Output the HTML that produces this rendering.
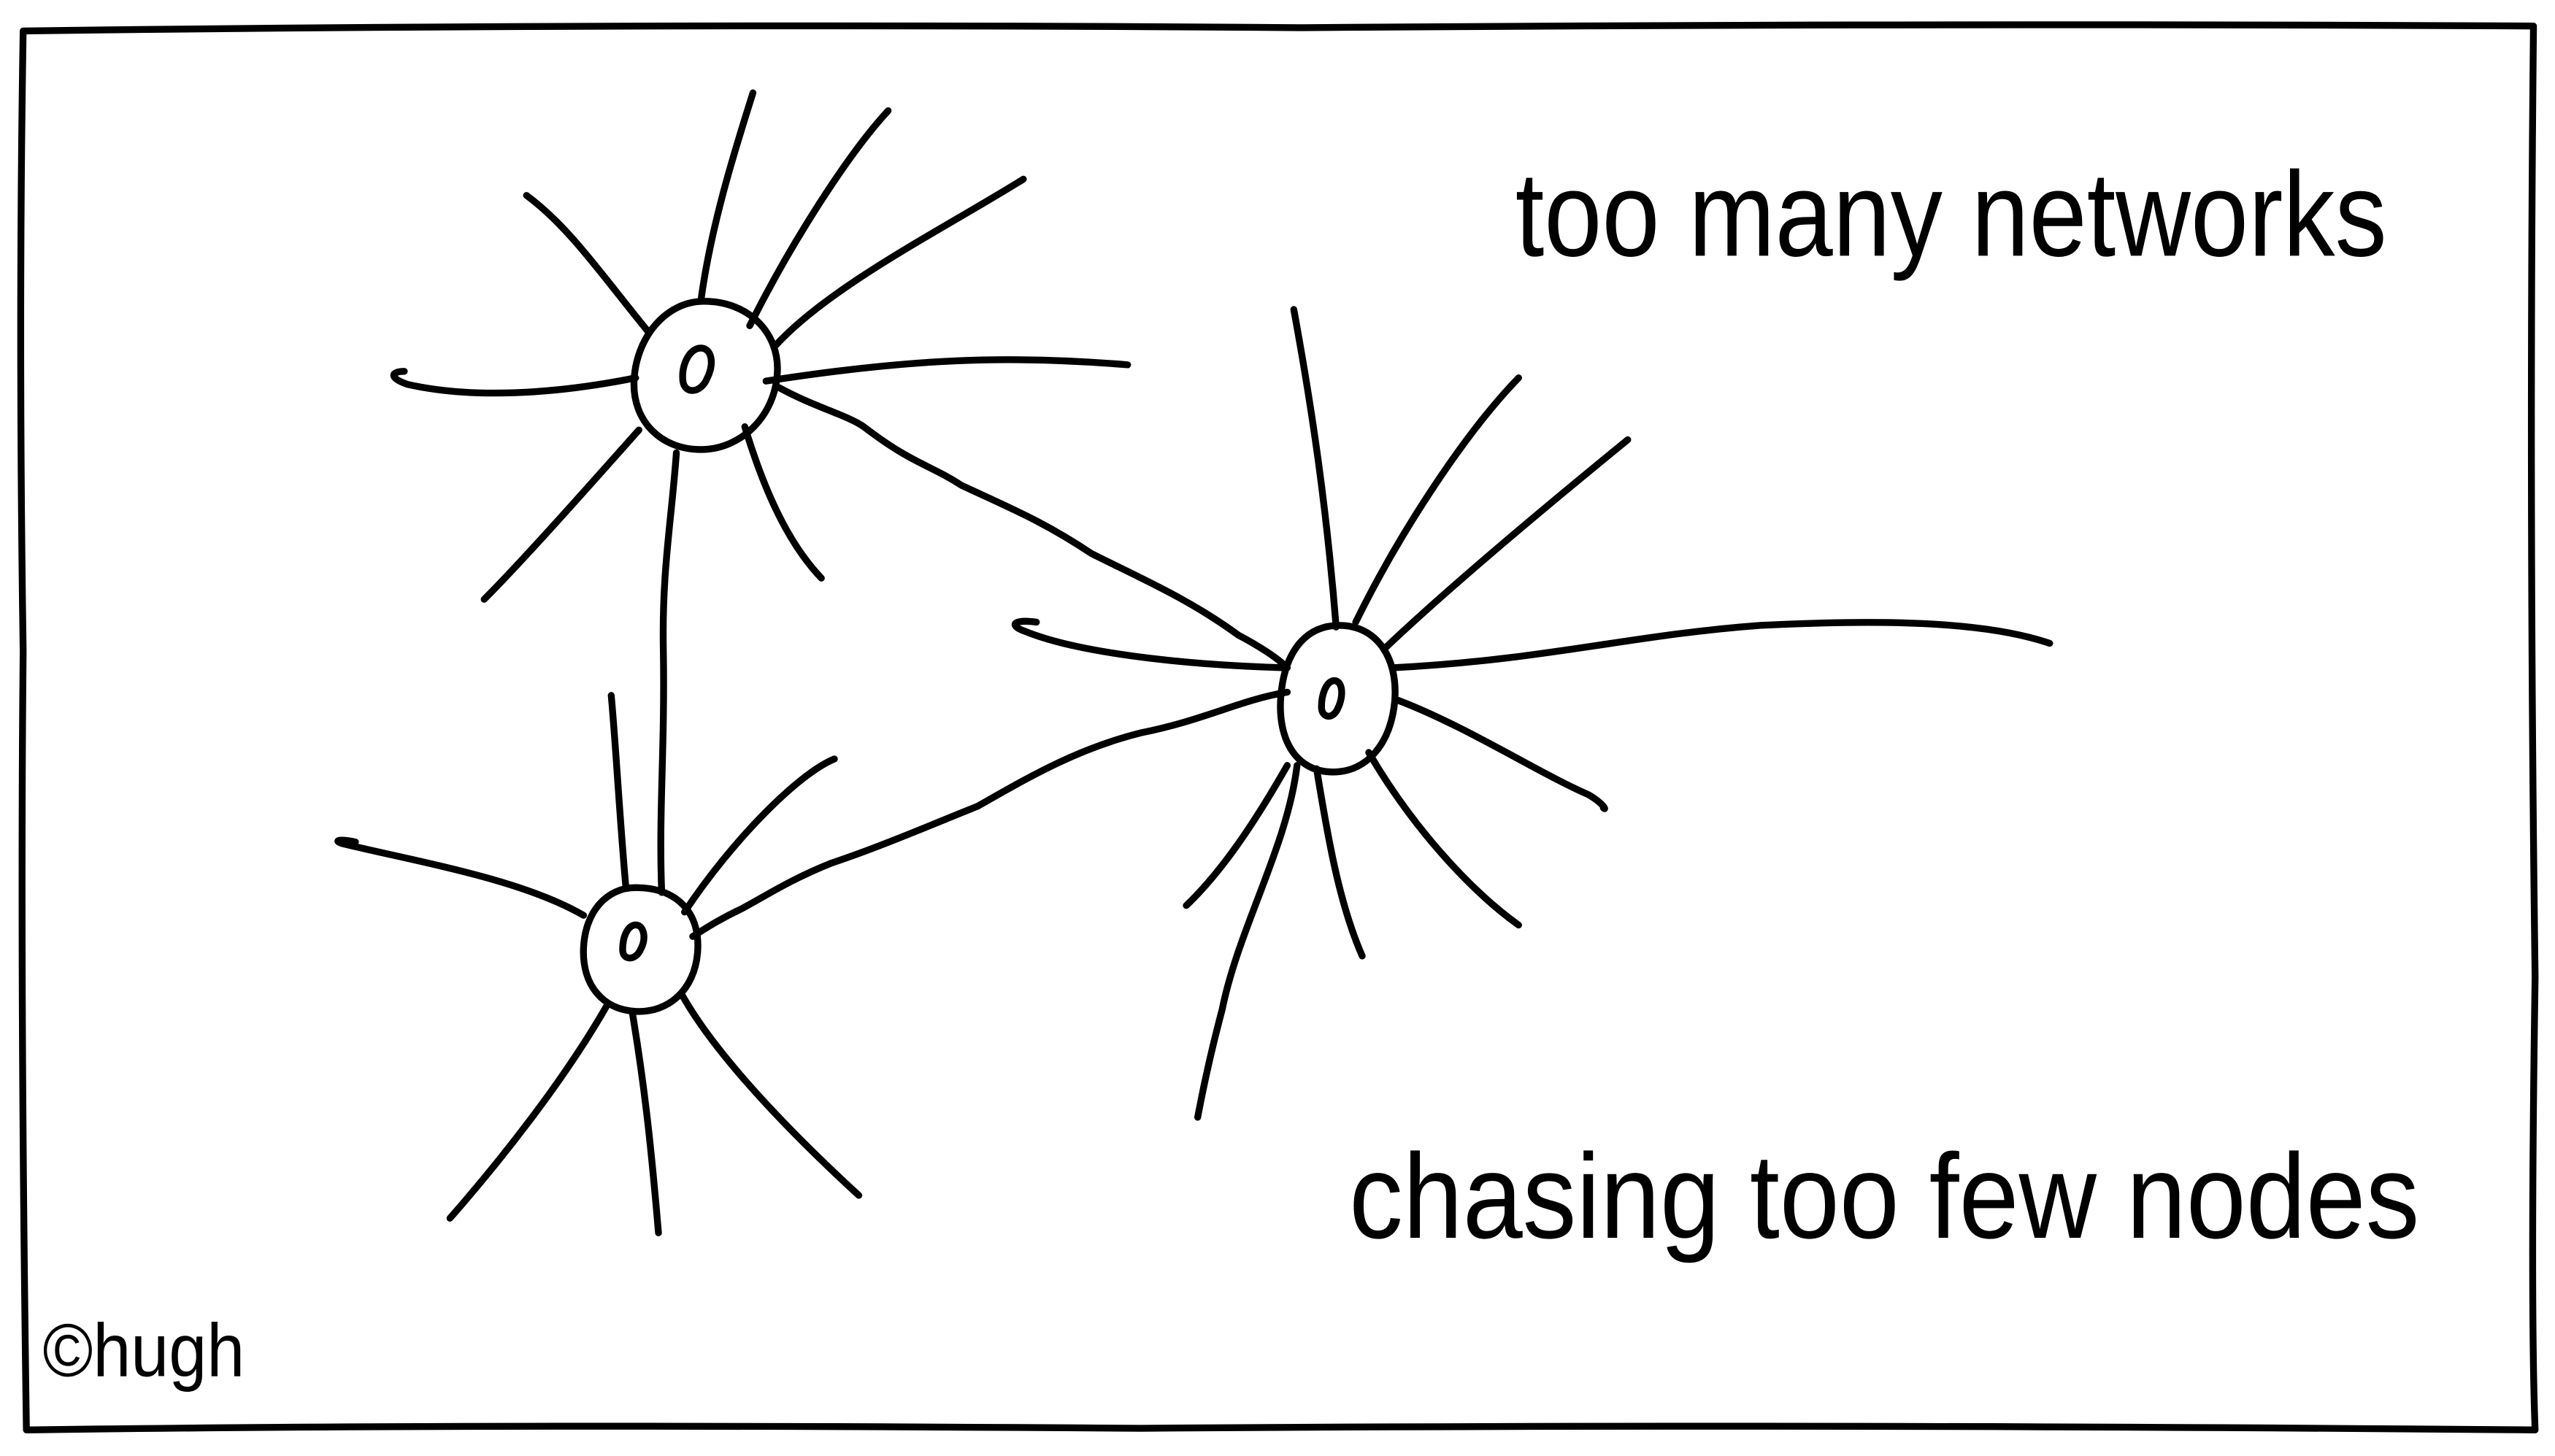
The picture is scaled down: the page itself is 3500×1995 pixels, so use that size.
<!DOCTYPE html>
<html><head><meta charset="utf-8"><style>
html,body{margin:0;padding:0;background:#fff;}
svg{display:block;}
</style></head><body>
<svg width="3500" height="1995" viewBox="0 0 1568 894" xmlns="http://www.w3.org/2000/svg">
<rect width="1568" height="894" fill="#fff"/>
<g fill="none" stroke="#000" stroke-width="4.2" stroke-linecap="round" stroke-linejoin="round">
<path d="M14 19 Q400 14 800 17 Q1200 14 1555 16 Q1552 300 1556 600 Q1553 800 1556 878 Q1100 874 700 877 Q300 874 16 878 Q12 600 14 400 Q11 200 14 19Z"/>
<path d="M432 185 C460 185 478 205 477 228 C476 255 455 276 430 276 C405 276 388 258 389 234 C390 208 408 185 432 185Z"/>
<path d="M428 214 C436 212 439 222 434 232 C430 242 420 242 419 234 C418 225 422 216 428 214Z"/>
<path d="M398 204 C370 170 350 140 323 120"/>
<path d="M430 185 C436 140 450 95 462 57"/>
<path d="M460 200 C485 150 520 95 545 68"/>
<path d="M476 212 C510 175 580 140 628 110"/>
<path d="M470 234 C560 220 620 218 692 224"/>
<path d="M390 232 C340 242 290 245 250 236 C238 232 240 228 248 228"/>
<path d="M392 264 C360 300 320 345 297 368"/>
<path d="M457 262 C470 305 485 335 504 355"/>
<path d="M415 278 C412 320 406 350 407 400 C408 460 404 500 406 548"/>
<path d="M478 238 C500 250 520 255 530 262 C560 285 570 285 590 298 C620 312 640 320 670 340 C700 355 730 368 760 390 C775 398 785 405 790 410"/>
<path d="M822 384 C845 384 858 404 856 430 C854 455 840 474 818 474 C796 474 784 455 786 428 C788 402 800 384 822 384Z"/>
<path d="M818 418 C824 417 825 427 821 435 C818 442 811 441 811 434 C811 426 814 419 818 418Z"/>
<path d="M820 385 C814 310 805 250 794 190"/>
<path d="M832 382 C860 325 900 265 932 232"/>
<path d="M850 398 C890 360 950 310 999 270"/>
<path d="M855 410 C950 405 1000 390 1080 384 C1160 380 1220 382 1258 395"/>
<path d="M788 410 C720 408 660 400 630 388 C618 384 622 380 636 382"/>
<path d="M858 430 C900 446 945 475 975 488 C985 494 986 498 984 496"/>
<path d="M840 462 C865 505 900 545 932 568"/>
<path d="M808 472 C815 515 822 555 836 587"/>
<path d="M796 470 C790 520 760 570 750 620 C742 650 738 670 735 686"/>
<path d="M790 470 C770 505 750 535 728 556"/>
<path d="M790 425 C760 430 740 442 700 450 C660 460 630 478 600 495 C570 507 540 520 510 530 C485 540 470 550 455 558 C440 565 430 572 425 575"/>
<path d="M390 545 C415 545 430 560 428 585 C426 608 410 622 390 621 C370 620 357 605 358 582 C359 560 372 545 390 545Z"/>
<path d="M389 568 C395 567 397 576 393 583 C390 590 382 590 382 583 C382 575 385 569 389 568Z"/>
<path d="M384 545 C380 500 378 460 375 427"/>
<path d="M420 560 C450 515 490 475 512 466"/>
<path d="M358 562 C320 540 260 530 210 518 C204 516 208 515 218 517"/>
<path d="M372 618 C345 665 305 715 276 748"/>
<path d="M388 622 C396 670 400 710 404 757"/>
<path d="M418 610 C440 650 490 700 527 734"/>
</g>
<g font-family="Liberation Sans, sans-serif" fill="#000">
<text x="930" y="157" font-size="74" textLength="535" lengthAdjust="spacingAndGlyphs">too many networks</text>
<text x="828" y="760" font-size="74" textLength="657" lengthAdjust="spacingAndGlyphs">chasing too few nodes</text>
<text x="26" y="845" font-size="46" textLength="124" lengthAdjust="spacingAndGlyphs">©hugh</text>
</g>
</svg>
</body></html>
